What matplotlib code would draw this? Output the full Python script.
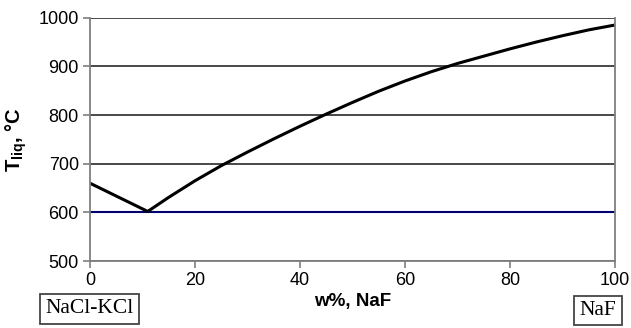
import matplotlib
matplotlib.use("Agg")
import matplotlib.pyplot as plt

plt.rcParams["font.family"] = ["Liberation Sans", "DejaVu Sans"]
plt.rcParams["mathtext.default"] = "regular"

# liquidus of the NaCl-KCl / NaF section
w_naf = [0, 11, 15, 20, 25, 30, 35, 40, 45, 50, 55, 60, 65, 70, 75, 80, 85, 90, 95, 100]
t_liq = [660, 602, 631, 665, 696, 724, 751, 777, 802, 826, 849, 870, 889, 906, 921, 936, 950, 963, 975, 985]
t_eut = 600

x_ticks = [0, 20, 40, 60, 80, 100]
y_ticks = [500, 600, 700, 800, 900, 1000]

fig = plt.figure(figsize=(6.31, 3.28), dpi=100)
ax = fig.add_axes([0.1426, 0.204, 0.832, 0.742])

ax.plot(w_naf, t_liq, color="black", lw=2.2, zorder=4)
ax.plot([x_ticks[0], x_ticks[-1]], [t_eut, t_eut], color="#000070", lw=1.5, zorder=3)

ax.set_xlim(0, 100)
ax.set_ylim(500, 1000)
ax.set_xticks(x_ticks)
ax.set_yticks(y_ticks)
ax.set_axisbelow(True)
ax.grid(axis="y", color="#3a3a3a", lw=1.3)

for side in ["left", "bottom", "right"]:
    ax.spines[side].set_color("#7f7f7f")
    ax.spines[side].set_linewidth(1.3)
    ax.spines[side].set_zorder(5)
ax.spines["top"].set_visible(False)

ax.tick_params(axis="both", direction="out", length=5, width=1.2,
               color="#7f7f7f", labelsize=13, pad=3)

ax.set_xlabel("w%, NaF", fontsize=13.5, fontweight="bold", labelpad=3)
ax.set_ylabel("T$_{liq}$, °C", fontsize=14.5, fontweight="bold", labelpad=7)

box = dict(boxstyle="square,pad=0.25", fc="white", ec="#444444", lw=1.3)
fig.text(0.1418, 0.058, "NaCl-KCl", family="Liberation Serif", fontsize=15.5,
         ha="center", va="center", bbox=box)
fig.text(0.948, 0.053, "NaF", family="Liberation Serif", fontsize=15.5,
         ha="center", va="center", bbox=box)

fig.savefig("out.png", dpi=100)
